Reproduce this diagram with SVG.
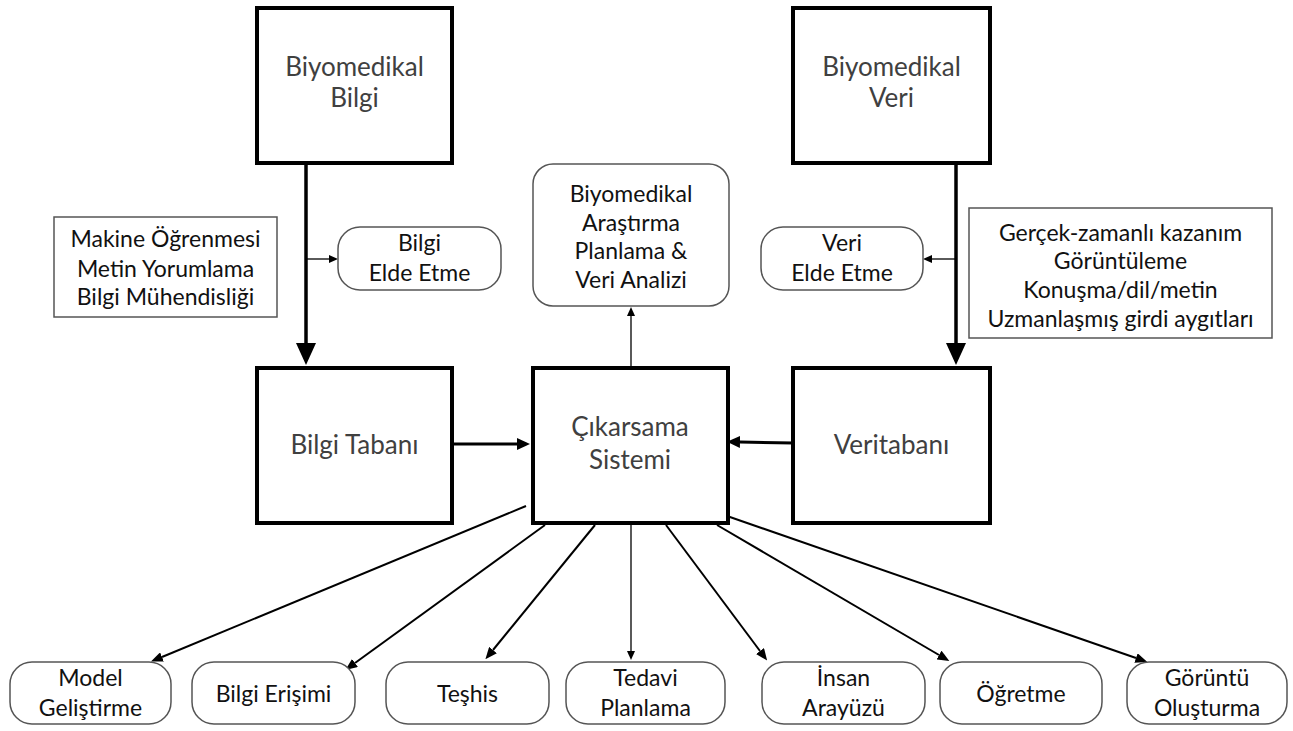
<svg xmlns="http://www.w3.org/2000/svg" width="1293" height="731" viewBox="0 0 1293 731">
<style>
.big{fill:#fff;stroke:#000;stroke-width:4}
.soft{fill:#fff;stroke:#555;stroke-width:1.5}
.tb{font-family:Lato,"Liberation Sans",sans-serif;font-size:26px;fill:#404040;text-anchor:middle}
.ts{font-family:Lato,"Liberation Sans",sans-serif;font-size:23px;fill:#111;text-anchor:middle}
.thick{stroke:#000;stroke-width:3.5;fill:none}
.mid{stroke:#000;stroke-width:3;fill:none}
.thin{stroke:#000;stroke-width:2;fill:none}
.hair{stroke:#000;stroke-width:1.3;fill:none}
</style>
<defs>
<marker id="ahBig" markerUnits="userSpaceOnUse" markerWidth="22" markerHeight="20" refX="0" refY="10" orient="auto">
<path d="M0,0 L22,10 L0,20 z" fill="#000"/>
</marker>
<marker id="ahMid" markerUnits="userSpaceOnUse" markerWidth="13" markerHeight="12" refX="0" refY="6" orient="auto">
<path d="M0,0 L13,6 L0,12 z" fill="#000"/>
</marker>
<marker id="ahSmall" markerUnits="userSpaceOnUse" markerWidth="12" markerHeight="10" refX="0" refY="5" orient="auto">
<path d="M0,0 L12,5 L0,10 z" fill="#000"/>
</marker>
<marker id="ahTiny" markerUnits="userSpaceOnUse" markerWidth="9" markerHeight="8" refX="0" refY="4" orient="auto">
<path d="M0,0 L9,4 L0,8 z" fill="#000"/>
</marker>
</defs>
<rect width="1293" height="731" fill="#fff"/>

<g id="connectors">
<line class="thick" x1="306" y1="163" x2="306" y2="343" marker-end="url(#ahBig)"/>
<line class="thick" x1="956" y1="163" x2="956" y2="343" marker-end="url(#ahBig)"/>
<line class="hair" x1="306" y1="259" x2="329" y2="259" marker-end="url(#ahTiny)"/>
<line class="hair" x1="956" y1="259" x2="932" y2="259" marker-end="url(#ahTiny)"/>
<line class="mid" x1="452" y1="444" x2="517" y2="444" marker-end="url(#ahMid)"/>
<line class="mid" x1="793" y1="443" x2="740" y2="442" marker-end="url(#ahMid)"/>
<line class="hair" x1="631" y1="368" x2="631" y2="316" marker-end="url(#ahTiny)"/>
<line class="thin" x1="526" y1="506" x2="162" y2="657" marker-end="url(#ahSmall)"/>
<line class="thin" x1="545" y1="525" x2="355" y2="663" marker-end="url(#ahSmall)"/>
<line class="thin" x1="595" y1="525" x2="493" y2="650" marker-end="url(#ahSmall)"/>
<line class="hair" x1="631" y1="525" x2="631" y2="651" marker-end="url(#ahTiny)"/>
<line class="thin" x1="666" y1="525" x2="760" y2="651" marker-end="url(#ahSmall)"/>
<line class="thin" x1="717" y1="525" x2="939" y2="655" marker-end="url(#ahSmall)"/>
<line class="thin" x1="727" y1="516" x2="1136" y2="658" marker-end="url(#ahSmall)"/>
</g>

<g id="biyomedikal-bilgi">
<rect class="big" x="257" y="8" width="195" height="155"/>
<text class="tb" x="354.5" y="76">Biyomedikal</text>
<text class="tb" x="354.5" y="107">Bilgi</text>
</g>
<g id="biyomedikal-veri">
<rect class="big" x="793" y="8" width="197" height="155"/>
<text class="tb" x="891.5" y="76">Biyomedikal</text>
<text class="tb" x="891.5" y="107">Veri</text>
</g>
<g id="bilgi-tabani">
<rect class="big" x="257" y="368" width="195" height="155"/>
<text class="tb" x="354.5" y="454">Bilgi Tabanı</text>
</g>
<g id="cikarsama-sistemi">
<rect class="big" x="533" y="368" width="195" height="155"/>
<text class="tb" x="630" y="436">Çıkarsama</text>
<text class="tb" x="630" y="469">Sistemi</text>
</g>
<g id="veritabani">
<rect class="big" x="793" y="368" width="197" height="155"/>
<text class="tb" x="891.5" y="454">Veritabanı</text>
</g>
<g id="arastirma">
<rect class="soft" x="533" y="164" width="196" height="142" rx="20"/>
<text class="ts" x="631" y="202">Biyomedikal</text>
<text class="ts" x="631" y="231">Araştırma</text>
<text class="ts" x="631" y="259">Planlama &amp;</text>
<text class="ts" x="631" y="288">Veri Analizi</text>
</g>
<g id="makine">
<rect class="soft" x="54" y="217" width="223" height="100"/>
<text class="ts" x="165.5" y="247">Makine Öğrenmesi</text>
<text class="ts" x="165.5" y="277">Metin Yorumlama</text>
<text class="ts" x="165.5" y="305">Bilgi Mühendisliği</text>
</g>
<g id="bilgi-elde-etme">
<rect class="soft" x="338" y="227" width="163" height="63" rx="22"/>
<text class="ts" x="419.5" y="251">Bilgi</text>
<text class="ts" x="419.5" y="281">Elde Etme</text>
</g>
<g id="veri-elde-etme">
<rect class="soft" x="761" y="227" width="162" height="63" rx="22"/>
<text class="ts" x="842" y="251">Veri</text>
<text class="ts" x="842" y="281">Elde Etme</text>
</g>
<g id="gercek">
<rect class="soft" x="969" y="208" width="303" height="130"/>
<text class="ts" x="1120.5" y="241">Gerçek-zamanlı kazanım</text>
<text class="ts" x="1120.5" y="269">Görüntüleme</text>
<text class="ts" x="1120.5" y="298">Konuşma/dil/metin</text>
<text class="ts" x="1120.5" y="327">Uzmanlaşmış girdi aygıtları</text>
</g>
<g id="model-gelistirme">
<rect class="soft" x="10" y="662" width="161" height="62" rx="22"/>
<text class="ts" x="90.5" y="686">Model</text>
<text class="ts" x="90.5" y="716">Geliştirme</text>
</g>
<g id="bilgi-erisimi">
<rect class="soft" x="192" y="662" width="163" height="62" rx="22"/>
<text class="ts" x="273.5" y="702">Bilgi Erişimi</text>
</g>
<g id="teshis">
<rect class="soft" x="386" y="662" width="163" height="62" rx="22"/>
<text class="ts" x="467.5" y="702">Teşhis</text>
</g>
<g id="tedavi-planlama">
<rect class="soft" x="566" y="662" width="159" height="62" rx="22"/>
<text class="ts" x="645.5" y="686">Tedavi</text>
<text class="ts" x="645.5" y="716">Planlama</text>
</g>
<g id="insan-arayuzu">
<rect class="soft" x="762" y="662" width="163" height="62" rx="22"/>
<text class="ts" x="843.5" y="686">İnsan</text>
<text class="ts" x="843.5" y="716">Arayüzü</text>
</g>
<g id="ogretme">
<rect class="soft" x="940" y="662" width="162" height="62" rx="22"/>
<text class="ts" x="1021" y="702">Öğretme</text>
</g>
<g id="goruntu-olusturma">
<rect class="soft" x="1127" y="662" width="160" height="62" rx="22"/>
<text class="ts" x="1207" y="686">Görüntü</text>
<text class="ts" x="1207" y="716">Oluşturma</text>
</g>
</svg>
